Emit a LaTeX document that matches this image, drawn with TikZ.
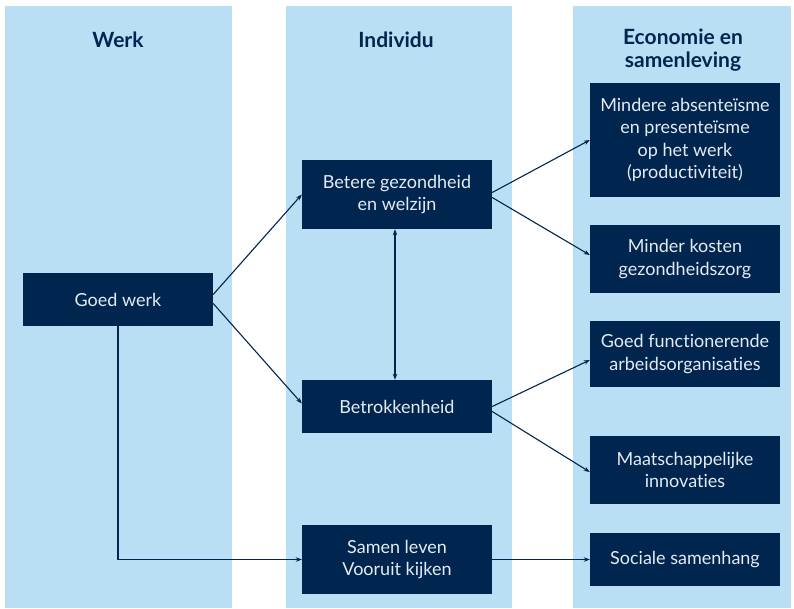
\documentclass[tikz,border=0pt]{standalone}
\usepackage{fontspec}
\setmainfont{Lato}[Ligatures=NoCommon]
\usetikzlibrary{arrows.meta,calc}
\definecolor{navy}{HTML}{00264F}
\definecolor{lightblue}{HTML}{BADFF4}
\definecolor{boxtext}{HTML}{E4EAF1}
\begin{document}
\begin{tikzpicture}[x=1pt,y=-1pt,
  column/.style={fill=lightblue,draw=none},
  heading/.style={text=navy,font=\bfseries\fontsize{21}{23}\selectfont,align=center,inner sep=0},
  boxnode/.style={fill=navy,text=boxtext,align=center,inner sep=0,minimum width=190pt,
    font=\fontsize{18}{22.5}\selectfont},
  conn/.style={draw=navy,line width=1.1pt,-{Stealth[length=6pt,width=4.5pt]}}
]
\useasboundingbox (0,0) rectangle (794,608);
\fill[white] (0,0) rectangle (794,608);
\fill[column] (5,6) rectangle (232,608);
\fill[column] (286,6) rectangle (512,608);
\fill[column] (573,6) rectangle (791,608);

\node[heading] (hwerk) at (118,40) {Werk};
\node[heading] (hind) at (396,40) {Individu};
\node[heading] (heco) at (683,50) {Economie en\\samenleving};

\node[boxnode,minimum height=53pt] (goed) at (118,299.5) {Goed werk};
\node[boxnode,minimum height=69pt] (betere) at (397,194.5) {Betere gezondheid\\en welzijn};
\node[boxnode,minimum height=53pt] (betrok) at (397,406.5) {Betrokkenheid};
\node[boxnode,minimum height=69pt] (samen) at (397,559.5) {Samen leven\\Vooruit kijken};
\node[boxnode,minimum height=114pt] (mindere) at (685,140) {Mindere absenteïsme\\en presenteïsme\\op het werk\\(productiviteit)};
\node[boxnode,minimum height=68pt] (kosten) at (685,259) {Minder kosten\\gezondheidszorg};
\node[boxnode,minimum height=66pt] (functie) at (685,354) {Goed functionerende\\arbeidsorganisaties};
\node[boxnode,minimum height=68pt] (maat) at (685,470) {Maatschappelijke\\innovaties};
\node[boxnode,minimum height=53pt] (sociale) at (685,559.5) {Sociale samenhang};

\draw[conn] ($(goed.east)+(0,-5)$) -- (betere.west);
\draw[conn] ($(goed.east)+(0,4)$) -- ($(betrok.west)+(0,-3)$);
\draw[conn] ($(betere.east)+(0,-2)$) -- (mindere.west);
\draw[conn] ($(betere.east)+(0,3)$) -- ($(kosten.west)+(0,-4)$);
\draw[conn] (betrok.east) -- ($(functie.west)+(0,6)$);
\draw[conn] ($(betrok.east)+(0,5)$) -- ($(maat.west)+(0,2)$);
\draw[conn,{Stealth[length=6pt,width=4.5pt]}-{Stealth[length=6pt,width=4.5pt]}] ($(betere.south)+(-2,0)$) -- ($(betrok.north)+(-2,0)$);
\draw[conn] (goed.south) |- (samen.west);
\draw[conn] (samen.east) -- (sociale.west);
\end{tikzpicture}
\end{document}
